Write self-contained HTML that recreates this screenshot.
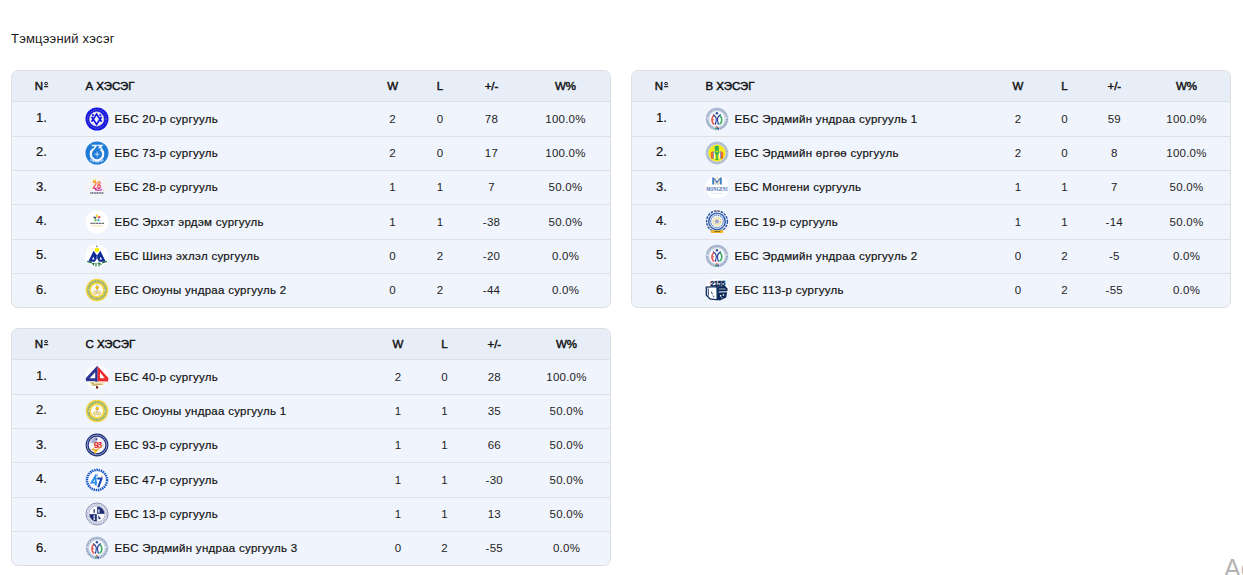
<!DOCTYPE html>
<html><head><meta charset="utf-8"><title>Тэмцээний хэсэг</title>
<style>
*{margin:0;padding:0;box-sizing:border-box}
html,body{width:1243px;height:575px;overflow:hidden;background:#fff}
body{position:relative;font-family:"Liberation Sans",sans-serif;color:#121212}
.title{position:absolute;left:11px;top:30.5px;font-size:13px;line-height:16px;letter-spacing:0.2px;white-space:nowrap;color:#1a1a1a}
.tbl{position:absolute;width:600px;height:238px;border:1px solid #dedfe0;border-radius:7px;background:#f0f4fc;overflow:hidden}
.hd{position:absolute;left:0;top:0;width:598px;height:31px;background:#e8eef8;border-bottom:1px solid #dfe0e1;font-weight:normal;font-size:11.5px;line-height:30px;-webkit-text-stroke:0.45px #121212}
.ln{position:absolute;left:0;width:598px;height:1px;background:#dfe0e1}
.rw{position:absolute;left:0;width:598px;height:33.3333px;font-size:11.5px;line-height:33.3333px;letter-spacing:0.25px}
.rw .c{top:0.5px;-webkit-text-stroke:0.2px #121212}
.c{position:absolute;top:0;white-space:nowrap}
.hd .no{left:22.8px}
.nos{position:absolute;left:32px;top:10.9px}
.hd .nm{left:73.5px}
.rw .no{left:24px;font-size:13px;top:-1px;letter-spacing:0}
.ctr{width:80px;text-align:center}
.rw .ctr{-webkit-text-stroke:0;color:#1e1e1e}
.ic{position:absolute;left:72.5px;top:4.67px;width:24px;height:24px}
.nmt{left:102.5px;letter-spacing:0.28px}
</style></head>
<body>
<div class="title">Тэмцээний хэсэг</div>
<div class="tbl" style="left:11px;top:70px">
<div class="hd">
<span class="c no">N</span><svg class="nos" width="5" height="7" viewBox="0 0 5 7"><ellipse cx="2.1" cy="1.6" rx="1.45" ry="1.25" fill="none" stroke="#121212" stroke-width="1"/><rect x="0" y="4.1" width="4.2" height="1.1" fill="#121212"/></svg>
<span class="c nm">А ХЭСЭГ</span>
<span class="c ctr" style="left:340.60px">W</span>
<span class="c ctr" style="left:388.00px">L</span>
<span class="c ctr" style="left:439.50px">+/-</span>
<span class="c ctr" style="left:513.50px">W%</span>
</div>
<div class="rw" style="top:31.000px">
<span class="c no">1.</span>
<svg class="ic" viewBox="0 0 24 24"><circle cx="12" cy="12" r="11.5" fill="#1414e6"/>
<circle cx="12" cy="12" r="9.3" fill="none" stroke="#b8b890" stroke-width="0.9" stroke-dasharray="0.8 1.4"/>
<circle cx="11.7" cy="12" r="7.2" fill="#f4f4fc"/>
<circle cx="11.7" cy="12" r="7.2" fill="none" stroke="#e6e6b0" stroke-width="0.5"/>
<path d="M6.6 9.8 L11.6 17.4 L16.6 9.8 M6.6 14.8 L11.6 7.1 L16.6 14.8" fill="none" stroke="#1414e6" stroke-width="1.7" stroke-linejoin="miter"/>
<circle cx="8" cy="8" r="1.1" fill="#1414e6"/><circle cx="15.3" cy="8" r="1.1" fill="#1414e6"/></svg>
<span class="c nmt">ЕБС 20-р сургууль</span>
<span class="c ctr" style="left:340.60px">2</span>
<span class="c ctr" style="left:388.00px">0</span>
<span class="c ctr" style="left:439.50px">78</span>
<span class="c ctr" style="left:513.50px">100.0%</span>
</div>
<div class="ln" style="top:65px"></div>
<div class="rw" style="top:65.333px">
<span class="c no">2.</span>
<svg class="ic" viewBox="0 0 24 24"><circle cx="12" cy="12" r="11.5" fill="#1f7bd6"/>
<path d="M8.2 8.2 A6.2 6.2 0 1 0 15.8 8.2" stroke="#f4f8fd" stroke-width="2.3" fill="none"/>
<path d="M6.8 4.4 H11.2 L8.4 8.6 M12.6 4.4 H16.8 L14.6 6.6 C17.6 6.9 17.4 9.4 15.6 9.9" fill="none" stroke="#f4f8fd" stroke-width="1.5"/>
<path d="M12.1 9.6 L12.8 12.6 L15.6 13.3 L12.8 14 L12.1 17 L11.4 14 L8.6 13.3 L11.4 12.6 Z" fill="#a9cdf0"/>
<path d="M5.2 18.6 Q12 23 18.8 18.6" fill="none" stroke="#e4effa" stroke-width="1.6" stroke-dasharray="1.1 0.5"/></svg>
<span class="c nmt">ЕБС 73-р сургууль</span>
<span class="c ctr" style="left:340.60px">2</span>
<span class="c ctr" style="left:388.00px">0</span>
<span class="c ctr" style="left:439.50px">17</span>
<span class="c ctr" style="left:513.50px">100.0%</span>
</div>
<div class="ln" style="top:99px"></div>
<div class="rw" style="top:99.667px">
<span class="c no">3.</span>
<svg class="ic" viewBox="0 0 24 24"><defs><linearGradient id="g28" x1="0" y1="0" x2="0" y2="1"><stop offset="0" stop-color="#f9b830"/><stop offset="0.3" stop-color="#f4782c"/><stop offset="0.6" stop-color="#ea2f52"/><stop offset="1" stop-color="#c42a9c"/></linearGradient></defs>
<circle cx="12" cy="12" r="11.5" fill="#f4f4f5"/>
<path d="M7.6 7 L8.4 4.2 L9.4 5.8 L10.4 3.8 L11 6.4 L9.4 7.4Z" fill="#f8cc2c"/>
<text x="12" y="14.4" text-anchor="middle" font-family="Liberation Sans" font-weight="bold" font-size="11.5" textLength="8.6" lengthAdjust="spacingAndGlyphs" fill="url(#g28)">28</text>
<path d="M10 14.6 Q14 15.8 17.4 14.8" stroke="#c42a9c" stroke-width="1.1" fill="none"/>
<path d="M5.2 18 H18.8" stroke="#5c5c78" stroke-width="1.5" stroke-dasharray="1.2 0.45"/></svg>
<span class="c nmt">ЕБС 28-р сургууль</span>
<span class="c ctr" style="left:340.60px">1</span>
<span class="c ctr" style="left:388.00px">1</span>
<span class="c ctr" style="left:439.50px">7</span>
<span class="c ctr" style="left:513.50px">50.0%</span>
</div>
<div class="ln" style="top:133px"></div>
<div class="rw" style="top:134.000px">
<span class="c no">4.</span>
<svg class="ic" viewBox="0 0 24 24"><circle cx="12" cy="12" r="11.5" fill="#ffffff"/>
<ellipse cx="11.9" cy="5.9" rx="1.3" ry="1.6" fill="#f6d446"/>
<ellipse cx="14.1" cy="7.3" rx="1.5" ry="1.1" fill="#ea5e58" transform="rotate(-20 14.1 7.3)"/>
<ellipse cx="13.5" cy="10.1" rx="1.1" ry="1.4" fill="#4fa6e0" transform="rotate(-25 13.5 10.1)"/>
<ellipse cx="10.6" cy="10.2" rx="1.1" ry="1.4" fill="#72c043" transform="rotate(25 10.6 10.2)"/>
<ellipse cx="9.8" cy="7.6" rx="1.5" ry="1" fill="#2e4a7e" transform="rotate(15 9.8 7.6)"/>
<path d="M5.4 13.4 H19" stroke="#70707c" stroke-width="1.2" stroke-dasharray="2.4 0.4"/>
<path d="M6.4 15.9 H17.5" stroke="#f2d77a" stroke-width="0.7"/></svg>
<span class="c nmt">ЕБС Эрхэт эрдэм сургууль</span>
<span class="c ctr" style="left:340.60px">1</span>
<span class="c ctr" style="left:388.00px">1</span>
<span class="c ctr" style="left:439.50px">-38</span>
<span class="c ctr" style="left:513.50px">50.0%</span>
</div>
<div class="ln" style="top:168px"></div>
<div class="rw" style="top:168.333px">
<span class="c no">5.</span>
<svg class="ic" viewBox="0 0 24 24"><circle cx="12" cy="12" r="11.5" fill="#ffffff"/>
<path d="M3.2 17.8 L8.6 6.8 L12 11.6 L15.4 6.8 L20.8 17.8 L14.2 17.8 L12 14.6 L9.8 17.8Z" fill="#102a9a"/>
<path d="M6.9 15.6 L8.4 12.8 L9.5 15.6Z M17.1 15.6 L15.6 12.8 L14.5 15.6Z" fill="#ffffff"/>
<path d="M12 12.2 L12 17.4" stroke="#ffffff" stroke-width="0.5"/>
<circle cx="12" cy="6" r="2.3" fill="#f8f200"/>
<path d="M11.3 1.2 L12.7 2.6 L11.8 3.4Z" fill="#102a9a"/>
<path d="M2.2 17.4 L7 19 M21.8 17.4 L17 19" stroke="#167038" stroke-width="1.2"/>
<path d="M7.5 19 L9 21.5 M9.5 19 L8 21 M11 19 V22.5 M12.5 19 H14 V22.5 M14.5 19.5 L16.5 20.5" stroke="#167038" stroke-width="1.1" fill="none"/></svg>
<span class="c nmt">ЕБС Шинэ эхлэл сургууль</span>
<span class="c ctr" style="left:340.60px">0</span>
<span class="c ctr" style="left:388.00px">2</span>
<span class="c ctr" style="left:439.50px">-20</span>
<span class="c ctr" style="left:513.50px">0.0%</span>
</div>
<div class="ln" style="top:202px"></div>
<div class="rw" style="top:202.667px">
<span class="c no">6.</span>
<svg class="ic" viewBox="0 0 24 24"><circle cx="12" cy="12" r="11.3" fill="#f3d445"/>
<circle cx="12" cy="12" r="8.8" fill="none" stroke="#6ea894" stroke-width="1.9" stroke-dasharray="1.1 0.6"/>
<circle cx="12" cy="12" r="6" fill="#fdfdf8"/>
<circle cx="12.2" cy="9.6" r="1.8" fill="#eab51e"/>
<path d="M11.2 7.4 L12.3 6.6 L13.2 7.6" stroke="#80b8d8" stroke-width="0.8" fill="none"/>
<circle cx="10.1" cy="14.6" r="1.7" fill="#f4e8a0" stroke="#c8a860" stroke-width="0.6"/>
<circle cx="14" cy="14.6" r="1.7" fill="#f4e8a0" stroke="#c8a860" stroke-width="0.6"/>
<path d="M10.6 11.6 L13.2 11.6 L12 13.6Z" fill="#c0b090"/>
<circle cx="4" cy="12" r="0.6" fill="#fff"/><circle cx="20" cy="12" r="0.6" fill="#fff"/></svg>
<span class="c nmt">ЕБС Оюуны ундраа сургууль 2</span>
<span class="c ctr" style="left:340.60px">0</span>
<span class="c ctr" style="left:388.00px">2</span>
<span class="c ctr" style="left:439.50px">-44</span>
<span class="c ctr" style="left:513.50px">0.0%</span>
</div>
</div>
<div class="tbl" style="left:631px;top:70px">
<div class="hd">
<span class="c no">N</span><svg class="nos" width="5" height="7" viewBox="0 0 5 7"><ellipse cx="2.1" cy="1.6" rx="1.45" ry="1.25" fill="none" stroke="#121212" stroke-width="1"/><rect x="0" y="4.1" width="4.2" height="1.1" fill="#121212"/></svg>
<span class="c nm">В ХЭСЭГ</span>
<span class="c ctr" style="left:346.00px">W</span>
<span class="c ctr" style="left:392.50px">L</span>
<span class="c ctr" style="left:442.30px">+/-</span>
<span class="c ctr" style="left:514.50px">W%</span>
</div>
<div class="rw" style="top:31.000px">
<span class="c no">1.</span>
<svg class="ic" viewBox="0 0 24 24"><circle cx="12" cy="12" r="11.4" fill="#c8d2e2"/>
<circle cx="12" cy="12" r="10" fill="none" stroke="#8296bb" stroke-width="1.7" stroke-dasharray="0.9 0.8"/>
<path d="M1.6 11.2 H3.4 M20.6 11.2 H22.4" stroke="#ffffff" stroke-width="0.9"/>
<circle cx="12" cy="12" r="7.7" fill="#ffffff"/>
<circle cx="11.9" cy="6.3" r="1.25" fill="#2a4aa2"/>
<path d="M7.9 7.6 C10.6 9 11.4 11 11.3 12.8 C11.2 14.6 10.6 16.2 10.4 17.8 M15.9 7.6 C13.2 9 12.4 11 12.5 12.8 C12.6 14.6 13.2 16.2 13.4 17.8" fill="none" stroke="#2a4aa2" stroke-width="1.2"/>
<path d="M9 8.6 C6.2 10.2 6.2 15.8 9.4 17.4" fill="none" stroke="#e25656" stroke-width="1.6"/>
<path d="M6.9 12.8 H9.2" stroke="#e25656" stroke-width="1"/>
<path d="M14.8 8.7 C17.6 10.3 17.6 15.8 14.4 17.4" fill="none" stroke="#3cb268" stroke-width="1.6"/>
<path d="M11.9 18.4 L13.1 20.4 L10.7 20.4Z" fill="#e03838"/>
<circle cx="10.8" cy="21.5" r="0.95" fill="#30aa5a"/><circle cx="13" cy="21.5" r="0.95" fill="#2a4aa2"/></svg>
<span class="c nmt">ЕБС Эрдмийн ундраа сургууль 1</span>
<span class="c ctr" style="left:346.00px">2</span>
<span class="c ctr" style="left:392.50px">0</span>
<span class="c ctr" style="left:442.30px">59</span>
<span class="c ctr" style="left:514.50px">100.0%</span>
</div>
<div class="ln" style="top:65px"></div>
<div class="rw" style="top:65.333px">
<span class="c no">2.</span>
<svg class="ic" viewBox="0 0 24 24"><circle cx="12" cy="12" r="11.4" fill="#c3cfdf"/>
<circle cx="12" cy="12" r="10.1" fill="none" stroke="#8fa3ba" stroke-width="1.3" stroke-dasharray="0.9 0.9"/>
<circle cx="12" cy="12" r="8.6" fill="#f5ea1a"/>
<path d="M5.9 17.6 L5.9 11.4 L7.9 10.2 L7.9 17.8Z" fill="#f0642a"/>
<path d="M18.1 17.6 L18.1 11.4 L16.1 10.2 L16.1 17.8Z" fill="#f0642a"/>
<path d="M7.9 10.2 L8.8 10.4 L8.8 17.8 L7.9 17.8Z" fill="#5a5ad2"/>
<path d="M16.1 10.2 L15.2 10.4 L15.2 17.8 L16.1 17.8Z" fill="#5a5ad2"/>
<path d="M8.8 10.4 L9.9 10.6 L9.9 17.6 L8.8 17.8Z M15.2 10.4 L14.1 10.6 L14.1 17.6 L15.2 17.8Z" fill="#fbf7d8"/>
<ellipse cx="11.8" cy="5.9" rx="2.2" ry="1.1" fill="#2eb04e"/>
<ellipse cx="11.8" cy="7.5" rx="2.4" ry="1.1" fill="#2eb04e"/>
<ellipse cx="11.8" cy="9.1" rx="2.1" ry="1" fill="#2eb04e"/>
<path d="M9.9 10.4 C10.8 11.4 11.4 12.6 12 14 C12.6 12.6 13.2 11.4 14.1 10.4 M12 13.4 V18.2" fill="none" stroke="#2eb04e" stroke-width="1.6"/>
<path d="M10.4 18.6 H13.6" stroke="#2eb04e" stroke-width="1"/></svg>
<span class="c nmt">ЕБС Эрдмийн өргөө сургууль</span>
<span class="c ctr" style="left:346.00px">2</span>
<span class="c ctr" style="left:392.50px">0</span>
<span class="c ctr" style="left:442.30px">8</span>
<span class="c ctr" style="left:514.50px">100.0%</span>
</div>
<div class="ln" style="top:99px"></div>
<div class="rw" style="top:99.667px">
<span class="c no">3.</span>
<svg class="ic" viewBox="0 0 24 24"><circle cx="12" cy="12" r="11.5" fill="#ffffff"/>
<path d="M8.1 2.6 V9.4 M15.9 2.6 V9.4" stroke="#3f80c4" stroke-width="1.8"/>
<path d="M9 3.4 L12 7.6 L15 3.4" fill="none" stroke="#3f80c4" stroke-width="1.4"/>
<path d="M9.8 3.5 V9 H14.2 V3.5 M11 3.5 L12 2.4 L13 3.5" fill="none" stroke="#b99c76" stroke-width="0.6"/>
<text x="12" y="15.8" text-anchor="middle" font-family="Liberation Serif" font-weight="bold" font-size="5.2" textLength="21.4" lengthAdjust="spacingAndGlyphs" fill="#2f62a6">MONGENI</text>
<text x="12" y="18.7" text-anchor="middle" font-family="Liberation Sans" font-size="1.6" textLength="12" lengthAdjust="spacing" fill="#7f9cbc">SCHOOL</text></svg>
<span class="c nmt">ЕБС Монгени сургууль</span>
<span class="c ctr" style="left:346.00px">1</span>
<span class="c ctr" style="left:392.50px">1</span>
<span class="c ctr" style="left:442.30px">7</span>
<span class="c ctr" style="left:514.50px">50.0%</span>
</div>
<div class="ln" style="top:133px"></div>
<div class="rw" style="top:134.000px">
<span class="c no">4.</span>
<svg class="ic" viewBox="0 0 24 24"><circle cx="12" cy="12" r="11.5" fill="#ffffff"/>
<circle cx="12" cy="11.4" r="10.4" fill="none" stroke="#2a56aa" stroke-width="1.5" stroke-dasharray="2.6 0.9"/>
<path d="M9 1.1 L10.2 1.3 M11.3 0.9 H12.7 M13.8 1.3 L15 1.1" stroke="#e06a30" stroke-width="0.7"/>
<path d="M15.6 1.6 L16.6 2" stroke="#40a040" stroke-width="0.7"/>
<circle cx="12" cy="11.4" r="8.3" fill="#eaf2fb" stroke="#2a56aa" stroke-width="1.4"/>
<circle cx="12" cy="11.4" r="6.3" fill="none" stroke="#2a56aa" stroke-width="1" stroke-dasharray="1.3 0.7"/>
<circle cx="12" cy="11.4" r="4.5" fill="#ffffff"/>
<circle cx="12" cy="11.4" r="3.7" fill="none" stroke="#e2c84a" stroke-width="1.1" stroke-dasharray="1.4 0.6"/>
<circle cx="12" cy="11.4" r="2.5" fill="#c4c6d4"/>
<path d="M10.8 12.3 L11.6 10.4 M12.3 10.5 Q13.4 11.4 12.4 12.3" stroke="#505066" stroke-width="0.6" fill="none"/>
<circle cx="5.4" cy="16.2" r="0.55" fill="#f0a818"/><circle cx="18.6" cy="16.2" r="0.55" fill="#f0a818"/>
<path d="M5.6 20.2 H18.4 L18 23 H6Z" fill="#f2b71c"/>
<path d="M9.6 21.6 H15" stroke="#403a20" stroke-width="0.9" stroke-dasharray="1.1 0.4"/></svg>
<span class="c nmt">ЕБС 19-р сургууль</span>
<span class="c ctr" style="left:346.00px">1</span>
<span class="c ctr" style="left:392.50px">1</span>
<span class="c ctr" style="left:442.30px">-14</span>
<span class="c ctr" style="left:514.50px">50.0%</span>
</div>
<div class="ln" style="top:168px"></div>
<div class="rw" style="top:168.333px">
<span class="c no">5.</span>
<svg class="ic" viewBox="0 0 24 24"><circle cx="12" cy="12" r="11.4" fill="#c8d2e2"/>
<circle cx="12" cy="12" r="10" fill="none" stroke="#8296bb" stroke-width="1.7" stroke-dasharray="0.9 0.8"/>
<path d="M1.6 11.2 H3.4 M20.6 11.2 H22.4" stroke="#ffffff" stroke-width="0.9"/>
<circle cx="12" cy="12" r="7.7" fill="#ffffff"/>
<circle cx="11.9" cy="6.3" r="1.25" fill="#2a4aa2"/>
<path d="M7.9 7.6 C10.6 9 11.4 11 11.3 12.8 C11.2 14.6 10.6 16.2 10.4 17.8 M15.9 7.6 C13.2 9 12.4 11 12.5 12.8 C12.6 14.6 13.2 16.2 13.4 17.8" fill="none" stroke="#2a4aa2" stroke-width="1.2"/>
<path d="M9 8.6 C6.2 10.2 6.2 15.8 9.4 17.4" fill="none" stroke="#e25656" stroke-width="1.6"/>
<path d="M6.9 12.8 H9.2" stroke="#e25656" stroke-width="1"/>
<path d="M14.8 8.7 C17.6 10.3 17.6 15.8 14.4 17.4" fill="none" stroke="#3cb268" stroke-width="1.6"/>
<path d="M11.9 18.4 L13.1 20.4 L10.7 20.4Z" fill="#e03838"/>
<circle cx="10.8" cy="21.5" r="0.95" fill="#30aa5a"/><circle cx="13" cy="21.5" r="0.95" fill="#2a4aa2"/></svg>
<span class="c nmt">ЕБС Эрдмийн ундраа сургууль 2</span>
<span class="c ctr" style="left:346.00px">0</span>
<span class="c ctr" style="left:392.50px">2</span>
<span class="c ctr" style="left:442.30px">-5</span>
<span class="c ctr" style="left:514.50px">0.0%</span>
</div>
<div class="ln" style="top:202px"></div>
<div class="rw" style="top:202.667px">
<span class="c no">6.</span>
<svg class="ic" viewBox="0 0 24 24"><circle cx="12" cy="12" r="11.5" fill="#ffffff"/>
<text x="12.6" y="7.6" text-anchor="middle" font-family="Liberation Sans" font-weight="bold" font-size="7.4" fill="#0d2a5a" stroke="#0d2a5a" stroke-width="0.35" letter-spacing="-0.4">2155</text>
<path d="M5 5.5 L6.2 4.2 M19.5 7.5 L20.5 8.5" stroke="#0d2a5a" stroke-width="0.8"/>
<path d="M1.3 9.2 L12 8.6 L12.2 21.8 L5 21 L1.3 17Z" fill="#ffffff" stroke="#0d2a5a" stroke-width="1.3"/>
<path d="M3.2 10.4 L3.3 17.6 M6.3 13.6 L7.4 16.2 M8 17.5 L9 19" stroke="#0d2a5a" stroke-width="0.9"/>
<path d="M12.2 8.3 L20 8 L22.6 10.5 L22.4 13.2 L13.8 13.4 L13.8 14.6 L22.2 14.2 L21.2 19.5 L15 22.4 L12.2 22Z" fill="#0d2a5a"/>
<path d="M14 11 H20.5" stroke="#ffffff" stroke-width="0.6"/>
<rect x="15" y="17" width="1.3" height="1.6" fill="#fff"/><rect x="17.8" y="16.2" width="1.3" height="1.6" fill="#fff"/><rect x="16.3" y="19.4" width="1" height="1" fill="#fff"/></svg>
<span class="c nmt">ЕБС 113-р сургууль</span>
<span class="c ctr" style="left:346.00px">0</span>
<span class="c ctr" style="left:392.50px">2</span>
<span class="c ctr" style="left:442.30px">-55</span>
<span class="c ctr" style="left:514.50px">0.0%</span>
</div>
</div>
<div class="tbl" style="left:11px;top:328px">
<div class="hd">
<span class="c no">N</span><svg class="nos" width="5" height="7" viewBox="0 0 5 7"><ellipse cx="2.1" cy="1.6" rx="1.45" ry="1.25" fill="none" stroke="#121212" stroke-width="1"/><rect x="0" y="4.1" width="4.2" height="1.1" fill="#121212"/></svg>
<span class="c nm">С ХЭСЭГ</span>
<span class="c ctr" style="left:346.00px">W</span>
<span class="c ctr" style="left:392.50px">L</span>
<span class="c ctr" style="left:442.30px">+/-</span>
<span class="c ctr" style="left:514.50px">W%</span>
</div>
<div class="rw" style="top:31.000px">
<span class="c no">1.</span>
<svg class="ic" viewBox="0 0 24 24"><circle cx="12" cy="12" r="11.5" fill="#ffffff"/>
<path d="M12.2 0.8 L0.7 13.2 L1 16.3 L10.2 16.3 L10.2 19.4 L12.7 19.4 L12.7 1.3 Z M10.2 7.2 L10.2 13.2 L4.6 13.2 Z" fill="#2c3592" fill-rule="evenodd"/>
<path d="M12.7 1.2 L23.4 13 L23 16.4 L12.7 16.4 Z M15 7.2 L15 13.2 L19.8 13.2 Z" fill="#ee2a2e" fill-rule="evenodd"/>
<path d="M3.6 16.8 L21 16.8 L18.5 20.4 L6 20.4 Z" fill="#f6ecc4"/>
<path d="M6.2 18.2 H9.2 M10.5 19.2 H17.5 M7 20 H12" stroke="#b08830" stroke-width="0.9"/>
<rect x="11" y="21.2" width="2.2" height="2.3" fill="#7a1a12"/></svg>
<span class="c nmt">ЕБС 40-р сургууль</span>
<span class="c ctr" style="left:346.00px">2</span>
<span class="c ctr" style="left:392.50px">0</span>
<span class="c ctr" style="left:442.30px">28</span>
<span class="c ctr" style="left:514.50px">100.0%</span>
</div>
<div class="ln" style="top:65px"></div>
<div class="rw" style="top:65.333px">
<span class="c no">2.</span>
<svg class="ic" viewBox="0 0 24 24"><circle cx="12" cy="12" r="11.3" fill="#f3d445"/>
<circle cx="12" cy="12" r="8.8" fill="none" stroke="#6ea894" stroke-width="1.9" stroke-dasharray="1.1 0.6"/>
<circle cx="12" cy="12" r="6" fill="#fdfdf8"/>
<circle cx="12.2" cy="9.6" r="1.8" fill="#eab51e"/>
<path d="M11.2 7.4 L12.3 6.6 L13.2 7.6" stroke="#80b8d8" stroke-width="0.8" fill="none"/>
<circle cx="10.1" cy="14.6" r="1.7" fill="#f4e8a0" stroke="#c8a860" stroke-width="0.6"/>
<circle cx="14" cy="14.6" r="1.7" fill="#f4e8a0" stroke="#c8a860" stroke-width="0.6"/>
<path d="M10.6 11.6 L13.2 11.6 L12 13.6Z" fill="#c0b090"/>
<circle cx="4" cy="12" r="0.6" fill="#fff"/><circle cx="20" cy="12" r="0.6" fill="#fff"/></svg>
<span class="c nmt">ЕБС Оюуны ундраа сургууль 1</span>
<span class="c ctr" style="left:346.00px">1</span>
<span class="c ctr" style="left:392.50px">1</span>
<span class="c ctr" style="left:442.30px">35</span>
<span class="c ctr" style="left:514.50px">50.0%</span>
</div>
<div class="ln" style="top:99px"></div>
<div class="rw" style="top:99.667px">
<span class="c no">3.</span>
<svg class="ic" viewBox="0 0 24 24"><circle cx="12" cy="12" r="11.4" fill="#1c2d78"/>
<circle cx="12" cy="12" r="9.9" fill="none" stroke="#c6cce2" stroke-width="0.7"/>
<circle cx="12" cy="12" r="8.3" fill="#f3f5fa"/>
<path d="M4.2 11 A7.8 7.8 0 0 1 12 3.8 L12 9 Z" fill="#b7c0dc" opacity="0.55"/>
<path d="M6.2 9 C7 6.2 9.5 4.4 12 4.6 L11.6 8.6 L8.5 10.6 Z" fill="#8a98c4" opacity="0.6"/>
<path d="M9.8 5.8 L12.6 5.2 L12 7.6Z" fill="#2a3a80"/>
<text x="12.2" y="15.4" text-anchor="middle" font-family="Liberation Sans" font-weight="bold" font-size="9.2" fill="#e52626" letter-spacing="-1.6">93</text>
<path d="M5.8 16.4 L9.4 17.8 L10 21.2 L11.8 18.2 L18.6 11.6 L16.2 12.6 L13.4 15.6 L11 16.4 L8.4 15.4 Z" fill="#f5a11e"/>
<path d="M9.4 17.8 L10 21.2 L11.8 18.2Z" fill="#f8d21e"/></svg>
<span class="c nmt">ЕБС 93-р сургууль</span>
<span class="c ctr" style="left:346.00px">1</span>
<span class="c ctr" style="left:392.50px">1</span>
<span class="c ctr" style="left:442.30px">66</span>
<span class="c ctr" style="left:514.50px">50.0%</span>
</div>
<div class="ln" style="top:133px"></div>
<div class="rw" style="top:134.000px">
<span class="c no">4.</span>
<svg class="ic" viewBox="0 0 24 24"><circle cx="12" cy="12" r="11.4" fill="#ffffff"/>
<circle cx="12" cy="12" r="10" fill="none" stroke="#1550c4" stroke-width="2.4" stroke-dasharray="1.5 0.7"/>
<circle cx="12" cy="12" r="11.3" fill="none" stroke="#36a0ec" stroke-width="0.5" stroke-dasharray="1 1.6"/>
<path d="M11.4 6.6 L6.6 14.6 L12.2 14.6 M10.6 9.6 L10.8 17.6" fill="none" stroke="#2b8fe4" stroke-width="1.9"/>
<path d="M12.2 10.4 H16.6 L13.2 19.4" fill="none" stroke="#1346b0" stroke-width="2"/>
<path d="M12.4 5.4 V9" stroke="#8cc6f0" stroke-width="0.8"/>
<circle cx="16.8" cy="8.2" r="0.7" fill="#f0a020"/></svg>
<span class="c nmt">ЕБС 47-р сургууль</span>
<span class="c ctr" style="left:346.00px">1</span>
<span class="c ctr" style="left:392.50px">1</span>
<span class="c ctr" style="left:442.30px">-30</span>
<span class="c ctr" style="left:514.50px">50.0%</span>
</div>
<div class="ln" style="top:168px"></div>
<div class="rw" style="top:168.333px">
<span class="c no">5.</span>
<svg class="ic" viewBox="0 0 24 24"><circle cx="12" cy="12" r="11.4" fill="#eceef5"/>
<circle cx="12" cy="12" r="11" fill="none" stroke="#7e88b2" stroke-width="0.9"/>
<circle cx="12" cy="12" r="9.5" fill="none" stroke="#a3abc9" stroke-width="1.3" stroke-dasharray="0.9 0.9"/>
<circle cx="12" cy="12" r="8" fill="none" stroke="#8a93b8" stroke-width="0.6"/>
<circle cx="12" cy="12" r="7.6" fill="#ffffff"/>
<path d="M12 4.4 A7.6 7.6 0 0 1 19.6 12 L12 12Z" fill="#1e2a70"/>
<path d="M12 19.6 A7.6 7.6 0 0 1 4.4 12 L12 12Z" fill="#1e2a70"/>
<path d="M9.2 7.2 V10.8" stroke="#1e2a70" stroke-width="1.3"/>
<path d="M13.9 7.3 V10.8" stroke="#ffffff" stroke-width="1.2"/>
<path d="M8.3 13.6 L10.2 13.6 L9.6 15.5 L10.2 17.8 L8.3 17.8 L8.9 15.5Z" fill="#ffffff"/>
<path d="M13.2 13.2 L16 16.4 L13.6 17.6Z" fill="#1e2a70"/>
<path d="M12 4.4 V19.6 M4.4 12 H19.6" stroke="#c8cce0" stroke-width="0.5"/></svg>
<span class="c nmt">ЕБС 13-р сургууль</span>
<span class="c ctr" style="left:346.00px">1</span>
<span class="c ctr" style="left:392.50px">1</span>
<span class="c ctr" style="left:442.30px">13</span>
<span class="c ctr" style="left:514.50px">50.0%</span>
</div>
<div class="ln" style="top:202px"></div>
<div class="rw" style="top:202.667px">
<span class="c no">6.</span>
<svg class="ic" viewBox="0 0 24 24"><circle cx="12" cy="12" r="11.4" fill="#c8d2e2"/>
<circle cx="12" cy="12" r="10" fill="none" stroke="#8296bb" stroke-width="1.7" stroke-dasharray="0.9 0.8"/>
<path d="M1.6 11.2 H3.4 M20.6 11.2 H22.4" stroke="#ffffff" stroke-width="0.9"/>
<circle cx="12" cy="12" r="7.7" fill="#ffffff"/>
<circle cx="11.9" cy="6.3" r="1.25" fill="#2a4aa2"/>
<path d="M7.9 7.6 C10.6 9 11.4 11 11.3 12.8 C11.2 14.6 10.6 16.2 10.4 17.8 M15.9 7.6 C13.2 9 12.4 11 12.5 12.8 C12.6 14.6 13.2 16.2 13.4 17.8" fill="none" stroke="#2a4aa2" stroke-width="1.2"/>
<path d="M9 8.6 C6.2 10.2 6.2 15.8 9.4 17.4" fill="none" stroke="#e25656" stroke-width="1.6"/>
<path d="M6.9 12.8 H9.2" stroke="#e25656" stroke-width="1"/>
<path d="M14.8 8.7 C17.6 10.3 17.6 15.8 14.4 17.4" fill="none" stroke="#3cb268" stroke-width="1.6"/>
<path d="M11.9 18.4 L13.1 20.4 L10.7 20.4Z" fill="#e03838"/>
<circle cx="10.8" cy="21.5" r="0.95" fill="#30aa5a"/><circle cx="13" cy="21.5" r="0.95" fill="#2a4aa2"/></svg>
<span class="c nmt">ЕБС Эрдмийн ундраа сургууль 3</span>
<span class="c ctr" style="left:346.00px">0</span>
<span class="c ctr" style="left:392.50px">2</span>
<span class="c ctr" style="left:442.30px">-55</span>
<span class="c ctr" style="left:514.50px">0.0%</span>
</div>
</div>
<div style="position:absolute;left:1224px;top:554px;font-size:25px;line-height:28px;color:#b3b3b3;white-space:nowrap">Activate</div>
</body></html>
